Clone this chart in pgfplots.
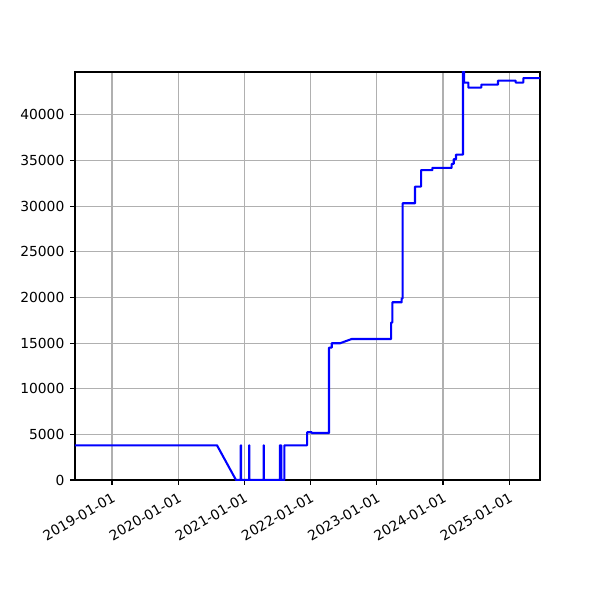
\documentclass[border=0pt]{standalone}
\usepackage{fontspec}
\setmainfont{DejaVu Sans}
\usepackage{pgfplots}
\pgfplotsset{compat=1.18}
\begin{document}
\begin{tikzpicture}
\path (-0.75in,-1.2in) rectangle (5.25in,4.8in);
\begin{axis}[
  at={(0,0)}, anchor=south west,
  scale only axis, width=4.65in, height=4.08in,
  xmin=2018.441, xmax=2025.465, ymin=0, ymax=44700,
  xtick={2019,2020,2021,2022,2023,2024,2025},
  xticklabels={2019-01-01,2020-01-01,2021-01-01,2022-01-01,2023-01-01,2024-01-01,2025-01-01},
  ytick={0,5000,10000,15000,20000,25000,30000,35000,40000},
  /pgf/number format/1000 sep={},
  /pgf/number format/assume math mode=true,
  scaled y ticks=false,
  tick label style={font=\fontsize{10}{12}\selectfont, black},
  xticklabel style={rotate=30, anchor=north east, inner sep=1pt, xshift=-2pt, yshift=-3pt},
  yticklabel style={inner sep=2pt, xshift=-2pt},
  tick align=outside, xtick pos=left, ytick pos=left,
  major tick length=3.5pt,
  every tick/.style={black, line width=0.8pt},
  axis line style={black, line width=0.8pt},
  grid=major,
  major grid style={color={rgb,255:red,176;green,176;blue,176}, line width=0.8pt},
  clip=true,
]
\addplot[blue, line width=1.5pt, line join=round] coordinates {
(2018.441,3800)
(2020.586,3800)
(2020.873,0)
(2020.945,0)(2020.945,3800)(2020.950,3800)(2020.950,0)
(2021.071,0)(2021.071,3800)(2021.076,3800)(2021.076,0)
(2021.290,0)(2021.290,3800)(2021.295,3800)(2021.295,0)
(2021.535,0)(2021.535,3800)(2021.540,3800)(2021.540,0)
(2021.552,0)(2021.552,3800)(2021.556,3800)(2021.556,0)
(2021.603,0)(2021.603,3800)
(2021.946,3800)(2021.946,5230)
(2022.017,5230)(2022.017,5150)
(2022.278,5150)(2022.278,14500)
(2022.319,14500)(2022.319,14980)
(2022.444,14980)
(2022.621,15450)
(2023.215,15450)(2023.215,17240)
(2023.234,17240)(2023.234,19470)
(2023.376,19470)(2023.376,19900)
(2023.391,19900)(2023.391,30320)
(2023.577,30320)(2023.577,32150)
(2023.668,32150)(2023.668,33940)
(2023.838,33940)(2023.838,34190)
(2024.131,34190)(2024.131,34630)
(2024.162,34630)(2024.162,35140)
(2024.196,35140)(2024.196,35650)
(2024.302,35650)(2024.302,46000)
(2024.317,46000)(2024.317,43540)
(2024.382,43540)(2024.382,42990)
(2024.579,42990)(2024.579,43320)
(2024.831,43320)(2024.831,43760)
(2025.098,43760)(2025.098,43540)
(2025.213,43540)(2025.213,44020)
(2025.465,44020)
};
\end{axis}
\end{tikzpicture}
\end{document}
